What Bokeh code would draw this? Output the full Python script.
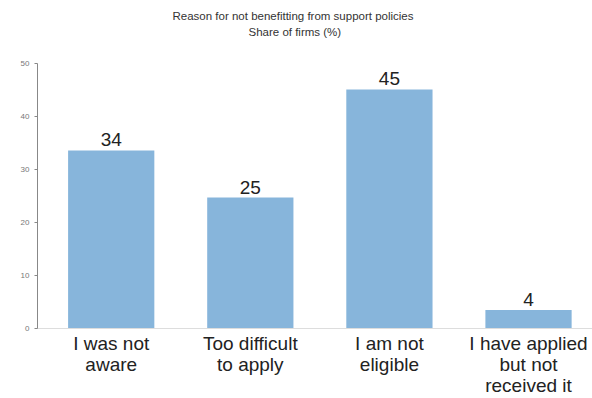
from bokeh.plotting import figure
from bokeh.models import ColumnDataSource, Range1d, FixedTicker, Title
from bokeh.embed import file_html
from bokeh.resources import INLINE
from bokeh.core.properties import value

categories = ["I was not\naware", "Too difficult\nto apply", "I am not\neligible", "I have applied\nbut not\nreceived it"]
shares = [33.6, 24.7, 45.1, 3.5]
bar_labels = ["34", "25", "45", "4"]
y_ticks = [0, 10, 20, 30, 40, 50]
title_lines = ["Reason for not benefitting from support policies", "Share of firms (%)"]

xs = list(range(len(categories)))
src = ColumnDataSource(dict(x=xs, top=shares, lab=bar_labels))

p = figure(width=592, height=398, output_backend="svg", toolbar_location=None,
           x_range=Range1d(-0.53, 3.46), y_range=Range1d(0, 50),
           min_border_left=37, min_border_right=0, min_border_top=63, min_border_bottom=60)
p.outline_line_color = None
p.grid.visible = False
p.background_fill_color = "white"

p.vbar(x="x", top="top", width=0.62, source=src, fill_color="#87b5db", line_color=None)
p.text(x="x", y="top", text="lab", source=src, text_align="center", text_baseline="bottom",
       y_offset=-4, text_font=value("Arial"), text_font_size="19px", text_color="#222222")

p.yaxis.ticker = FixedTicker(ticks=y_ticks)
p.yaxis.axis_line_color = "#888888"
p.yaxis.major_tick_line_color = "#888888"
p.yaxis.major_tick_out = 3
p.yaxis.major_tick_in = 0
p.yaxis.minor_tick_line_color = None
p.yaxis.major_label_text_font_size = "8px"
p.yaxis.major_label_text_color = "#777777"
p.yaxis.major_label_text_font = "Arial"

p.xaxis.ticker = FixedTicker(ticks=xs)
p.xaxis.major_label_overrides = {i: c for i, c in zip(xs, categories)}
p.xaxis.axis_line_color = "#dddddd"
p.xaxis.major_tick_line_color = None
p.xaxis.minor_tick_line_color = None
p.xaxis.major_label_text_font_size = "19px"
p.xaxis.major_label_text_line_height = 1.0
p.xaxis.major_label_text_font = "Arial"
p.xaxis.major_label_text_color = "#222222"
p.xaxis.major_label_standoff = -2

# invisible spacer between the plot frame and the two-line title
p.add_layout(Title(text=" ", text_font_size="11.5px", standoff=11), "above")
p.add_layout(Title(text=title_lines[1], align="left", text_font_size="11.5px",
                   text_font_style="normal", text_font="Arial", text_color="#333333",
                   standoff=2, offset=211), "above")
p.add_layout(Title(text=title_lines[0], align="left", text_font_size="11.5px",
                   text_font_style="normal", text_font="Arial", text_color="#333333",
                   standoff=2, offset=135), "above")

open("out.html", "w").write(file_html(p, INLINE))
